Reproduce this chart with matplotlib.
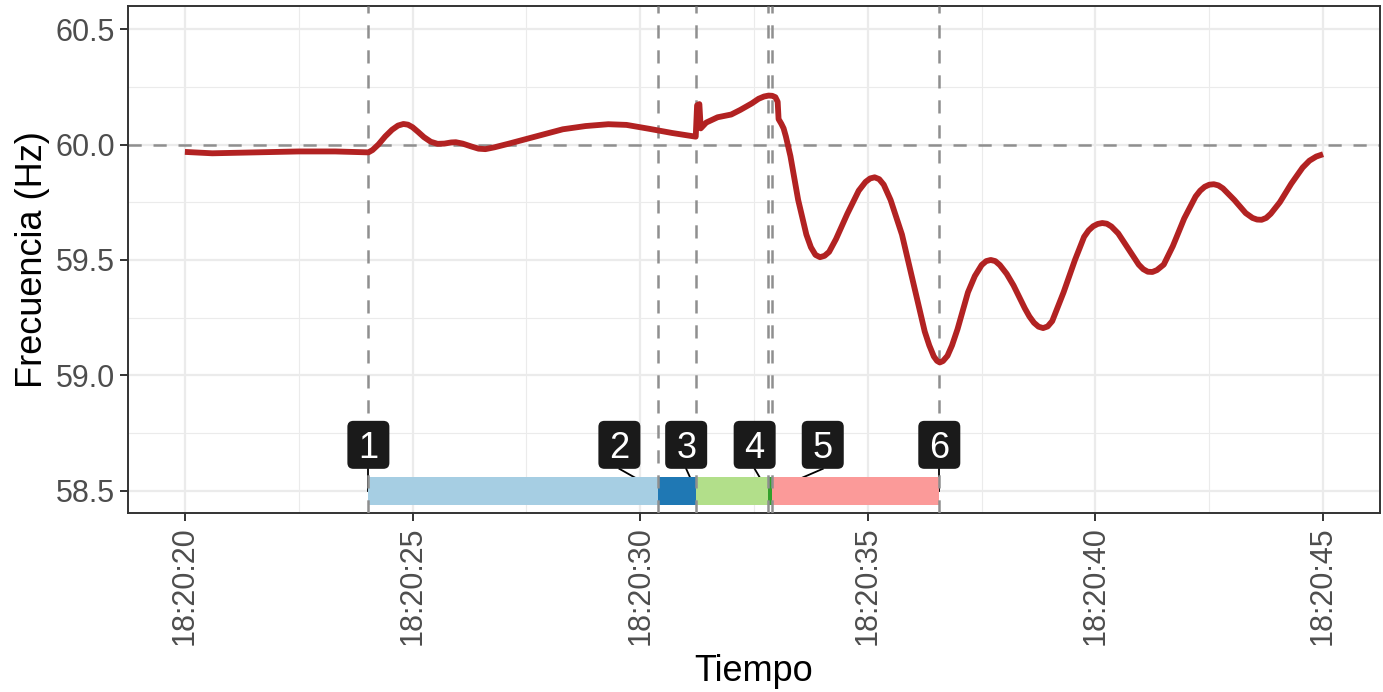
import matplotlib
matplotlib.use("Agg")
import matplotlib.pyplot as plt
from matplotlib import transforms
from matplotlib.patches import FancyBboxPatch
from matplotlib.lines import Line2D
from matplotlib.ticker import MultipleLocator, FuncFormatter

plt.rcParams['font.family'] = ['Liberation Sans', 'DejaVu Sans']
plt.rcParams['lines.scale_dashes'] = False

# segundos dentro del minuto 18:20
tiempo = [20.00, 20.60, 21.50, 22.50, 23.30, 24.03, 24.12, 24.25, 24.40, 24.55,
          24.68, 24.80, 24.90, 25.00, 25.12, 25.25, 25.40, 25.55, 25.70, 25.85,
          25.95, 26.10, 26.30, 26.45, 26.60, 26.80, 27.10, 27.50, 27.90, 28.30,
          28.80, 29.30, 29.70, 30.20, 30.70, 31.22, 31.25, 31.30, 31.33, 31.45,
          31.70, 32.00, 32.20, 32.45, 32.60, 32.72, 32.82, 32.90, 32.97, 33.02,
          33.04, 33.10, 33.15, 33.20, 33.30, 33.47, 33.65, 33.75, 33.85, 33.95,
          34.05, 34.15, 34.30, 34.55, 34.80, 34.95, 35.05, 35.15, 35.25, 35.35,
          35.50, 35.75, 36.00, 36.25, 36.35, 36.45, 36.52, 36.58, 36.65, 36.75,
          36.85, 36.97, 37.20, 37.35, 37.50, 37.60, 37.70, 37.80, 37.90, 38.05,
          38.20, 38.45, 38.55, 38.65, 38.75, 38.85, 38.95, 39.05, 39.30, 39.55,
          39.75, 39.85, 39.95, 40.05, 40.15, 40.25, 40.35, 40.50, 40.70, 40.95,
          41.05, 41.15, 41.25, 41.35, 41.50, 41.70, 41.95, 42.20, 42.30, 42.40,
          42.50, 42.60, 42.70, 42.80, 43.05, 43.30, 43.45, 43.55, 43.65, 43.75,
          43.85, 44.05, 44.30, 44.55, 44.70, 44.85, 45.00]
frecuencia = [59.968, 59.962, 59.966, 59.970, 59.970, 59.966, 59.976, 60.000, 60.035, 60.064,
              60.082, 60.089, 60.086, 60.075, 60.055, 60.032, 60.012, 60.003, 60.004, 60.009,
              60.010, 60.004, 59.991, 59.982, 59.980, 59.988, 60.003, 60.024, 60.045, 60.066,
              60.080, 60.088, 60.085, 60.068, 60.050, 60.034, 60.170, 60.175, 60.070, 60.095,
              60.118, 60.130, 60.150, 60.178, 60.198, 60.208, 60.212, 60.211, 60.205, 60.185,
              60.110, 60.090, 60.070, 60.035, 59.950, 59.760, 59.610, 59.555, 59.522, 59.512,
              59.518, 59.535, 59.590, 59.700, 59.800, 59.838, 59.853, 59.858, 59.850, 59.826,
              59.760, 59.610, 59.400, 59.190, 59.130, 59.082, 59.063, 59.056, 59.062, 59.085,
              59.130, 59.200, 59.360, 59.430, 59.478, 59.495, 59.500, 59.495, 59.478, 59.440,
              59.390, 59.290, 59.255, 59.228, 59.211, 59.205, 59.212, 59.235, 59.360, 59.500,
              59.600, 59.628, 59.646, 59.656, 59.660, 59.657, 59.645, 59.615, 59.555, 59.480,
              59.460, 59.449, 59.448, 59.456, 59.480, 59.560, 59.680, 59.775, 59.800, 59.817,
              59.826, 59.828, 59.823, 59.810, 59.760, 59.703, 59.682, 59.675, 59.674, 59.682,
              59.700, 59.750, 59.830, 59.900, 59.930, 59.948, 59.958]

eventos = [24.03, 30.40, 31.23, 32.80, 32.89, 36.57]
etiquetas = ["1", "2", "3", "4", "5", "6"]
colores_tramo = ["#A6CEE3", "#1F78B4", "#B2DF8A", "#33A02C", "#FB9A99"]
f_nominal = 60.0
y_eventos = 58.5

# desplazamiento de cada etiqueta respecto a su evento (px)
etq_dx = [0, -39, -10, -13, 51, 0]
etq_dy = 46

fig = plt.figure(figsize=(13.83, 6.92), dpi=100)
ax = fig.add_axes([128 / 1383, 1 - 513 / 692, (1380 - 128) / 1383, (513 - 6) / 692])

ax.set_xlim(18.75, 46.25)
ax.set_ylim(58.404, 60.6)

ax.xaxis.set_major_locator(MultipleLocator(5))
ax.xaxis.set_minor_locator(MultipleLocator(2.5))
ax.yaxis.set_major_locator(MultipleLocator(0.5))
ax.yaxis.set_minor_locator(MultipleLocator(0.25))
ax.xaxis.set_major_formatter(FuncFormatter(lambda v, p: "18:20:%02d" % int(round(v))))
ax.yaxis.set_major_formatter(FuncFormatter(lambda v, p: "%.1f" % v))

ax.grid(which='major', color='#EBEBEB', lw=1.6, zorder=0)
ax.grid(which='minor', color='#EBEBEB', lw=0.8, zorder=0)
ax.set_axisbelow(True)
for s in ax.spines.values():
    s.set_color('#333333')
    s.set_linewidth(1.4)

ax.tick_params(which='major', length=5.5, width=1.4, color='#333333',
               labelcolor='#4D4D4D', labelsize=22, pad=4)
ax.tick_params(which='minor', length=0)
ax.tick_params(axis='x', labelrotation=90)

# tramos entre eventos
inicios = eventos[:-1]
anchos = [b - a for a, b in zip(eventos[:-1], eventos[1:])]
ax.barh(y_eventos, anchos, left=inicios, height=0.12, color=colores_tramo, zorder=3)

guion = (0, (9.5, 8.5))
ax.axhline(f_nominal, color='#8F8F8F', lw=1.8, ls=guion, zorder=2)
for t in eventos:
    ax.axvline(t, color='#8F8F8F', lw=1.8, ls=guion, zorder=4)

ax.plot(tiempo, frecuencia, color='#B22222', lw=4.2, zorder=5,
        solid_joinstyle='round', solid_capstyle='butt')

# etiquetas de eventos con su conector
for t, lbl, dx in zip(eventos, etiquetas, etq_dx):
    tr = fig.dpi_scale_trans + transforms.ScaledTranslation(t, y_eventos, ax.transData)
    ax.add_line(Line2D([dx / 100, 0], [(etq_dy - 24) / 100, 0], color='black',
                       lw=1.3, transform=tr, zorder=2.5, clip_on=False))
    caja = FancyBboxPatch(((dx - 21) / 100, (etq_dy - 24) / 100), 0.42, 0.48,
                          boxstyle="round,pad=0,rounding_size=0.06",
                          fc='#1A1A1A', ec='none', transform=tr, zorder=6)
    ax.add_patch(caja)
    ax.text(dx / 100, etq_dy / 100, lbl, transform=tr, ha='center',
            va='center_baseline', color='white', fontsize=26, zorder=7)

fig.text(33 / 1383, 1 - 260 / 692, "Frecuencia (Hz)", rotation=90, ha='center',
         va='center', fontsize=26, color='black')
fig.text(754 / 1383, 1 - 681 / 692, "Tiempo", ha='center', va='baseline',
         fontsize=26, color='black')

fig.savefig("out.png", dpi=100)
